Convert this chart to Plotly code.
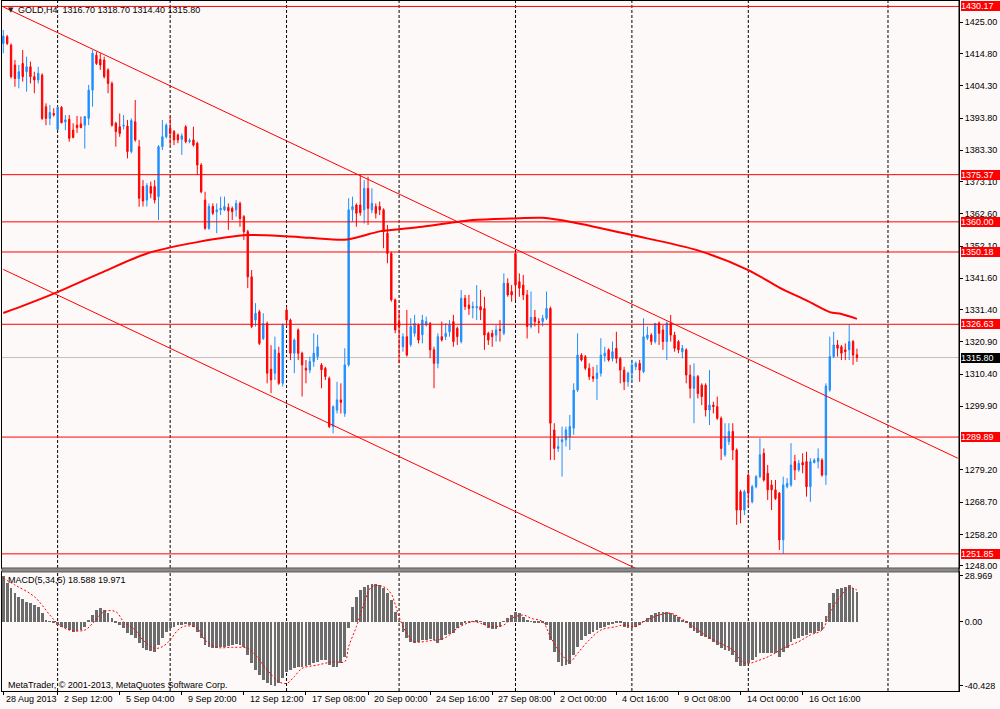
import plotly.graph_objects as go

# GOLD H4 candles, bar 0 = leftmost visible bar. Prices.
opens = [
    1418.1, 1420.3, 1417.6, 1411.1, 1406.7, 1411.6, 1408.9, 1410.5, 1407.3, 1406.2,
    1407.8, 1397.5, 1393.7, 1395.3, 1390.1, 1397.3, 1392.6, 1393.4, 1389.9, 1391.5,
    1391.9, 1391.5, 1393.7, 1402.9, 1414.3, 1412.9, 1412.7, 1409.5, 1405.1, 1392.1,
    1391.0, 1391.2, 1391.2, 1382.9, 1392.6, 1384.5, 1371.5, 1367.1, 1371.5, 1371.5,
    1368.2, 1384.5, 1387.7, 1390.5, 1389.4, 1388.3, 1386.9, 1391.0, 1386.2, 1386.7,
    1385.6, 1378.5, 1367.1, 1357.9, 1365.0, 1363.3, 1363.9, 1363.9, 1364.7, 1364.4,
    1363.9, 1366.0, 1361.7, 1356.8, 1342.1, 1328.0, 1330.7, 1322.0, 1326.9, 1312.0,
    1310.7, 1317.2, 1307.4, 1331.3, 1328.0, 1317.2, 1324.8, 1317.2, 1312.3, 1311.7,
    1314.5, 1316.1, 1313.4, 1312.3, 1309.0, 1293.3, 1298.7, 1302.0, 1297.6, 1313.4,
    1363.9, 1365.5, 1365.5, 1363.9, 1370.9, 1363.9, 1365.0, 1365.0, 1363.9, 1356.3,
    1349.7, 1334.6, 1327.5, 1319.3, 1322.6, 1320.0, 1323.7, 1326.4, 1323.2, 1326.4,
    1326.9, 1318.3, 1313.9, 1322.6, 1322.6, 1324.2, 1327.5, 1325.3, 1321.0, 1335.1,
    1332.9, 1332.0, 1332.0, 1332.4, 1331.8, 1323.7, 1323.7, 1323.1, 1325.0, 1323.7,
    1340.0, 1337.3, 1349.7, 1340.5, 1339.4, 1336.2, 1325.9, 1328.9, 1327.5, 1327.5,
    1328.6, 1331.8, 1292.2, 1286.2, 1288.4, 1289.0, 1290.0, 1292.8, 1305.2, 1316.6,
    1316.1, 1312.3, 1309.6, 1309.0, 1310.7, 1316.3, 1318.3, 1315.5, 1318.8, 1315.5,
    1311.7, 1307.9, 1310.7, 1312.8, 1313.9, 1311.2, 1322.1, 1323.1, 1321.0, 1327.0,
    1324.8, 1321.0, 1327.0, 1323.1, 1321.0, 1317.7, 1318.3, 1310.1, 1305.8, 1309.6,
    1306.8, 1306.8, 1298.7, 1300.3, 1299.8, 1296.0, 1284.1, 1288.4, 1291.7, 1285.7,
    1272.1, 1266.1, 1277.5, 1268.8, 1273.7, 1277.0, 1284.6, 1278.1, 1274.3, 1272.7,
    1271.6, 1256.4, 1273.7, 1274.3, 1281.9, 1279.2, 1281.6, 1281.9, 1273.7, 1281.6,
    1281.9, 1282.4, 1277.5, 1305.2, 1316.1, 1319.9, 1319.3, 1318.3, 1318.3, 1321.0,
    1316.7,
]
highs = [
    1422.5, 1420.9, 1418.1, 1412.7, 1411.1, 1416.0, 1413.8, 1412.2, 1408.9, 1410.5,
    1408.4, 1398.6, 1398.1, 1397.0, 1397.5, 1397.7, 1394.8, 1394.8, 1392.1, 1394.5,
    1394.3, 1394.3, 1404.6, 1416.0, 1415.4, 1414.9, 1413.8, 1410.0, 1405.7, 1392.6,
    1395.3, 1394.8, 1393.2, 1393.7, 1399.7, 1386.7, 1373.6, 1372.6, 1373.1, 1373.6,
    1385.0, 1393.2, 1392.1, 1394.3, 1389.9, 1388.8, 1388.8, 1391.5, 1387.2, 1391.0,
    1386.1, 1379.1, 1369.8, 1366.0, 1366.0, 1366.0, 1368.2, 1368.2, 1366.0, 1365.0,
    1367.1, 1366.6, 1362.2, 1357.4, 1344.3, 1333.5, 1331.3, 1330.2, 1327.5, 1319.8,
    1322.6, 1319.3, 1326.9, 1332.4, 1328.5, 1322.0, 1325.3, 1317.7, 1315.0, 1316.1,
    1323.7, 1323.2, 1314.0, 1312.8, 1309.6, 1300.2, 1307.9, 1307.4, 1318.8, 1367.7,
    1368.2, 1366.0, 1375.37, 1373.6, 1374.7, 1370.9, 1366.0, 1366.6, 1364.4, 1359.0,
    1350.3, 1335.0, 1331.3, 1323.7, 1331.3, 1328.6, 1329.7, 1326.9, 1329.7, 1329.1,
    1327.4, 1319.3, 1323.7, 1327.5, 1327.0, 1328.0, 1329.7, 1325.9, 1337.8, 1336.2,
    1336.2, 1334.0, 1339.4, 1337.8, 1335.6, 1324.2, 1324.8, 1326.4, 1328.0, 1343.2,
    1341.6, 1339.4, 1350.18, 1343.2, 1342.7, 1337.8, 1337.3, 1331.3, 1328.6, 1329.7,
    1337.3, 1332.4, 1294.4, 1290.0, 1293.3, 1293.3, 1297.1, 1307.4, 1323.7, 1317.2,
    1316.6, 1313.9, 1312.8, 1313.4, 1322.1, 1319.3, 1318.8, 1321.0, 1324.2, 1316.0,
    1312.8, 1311.2, 1315.0, 1314.5, 1315.0, 1328.6, 1325.9, 1323.7, 1327.0, 1327.5,
    1326.4, 1327.5, 1329.7, 1324.2, 1321.5, 1319.9, 1318.8, 1313.4, 1313.9, 1310.1,
    1307.4, 1307.4, 1311.7, 1301.4, 1303.1, 1296.6, 1294.4, 1294.4, 1294.4, 1286.2,
    1272.7, 1272.7, 1278.1, 1274.3, 1277.5, 1289.5, 1286.2, 1280.8, 1275.9, 1275.9,
    1272.0, 1277.0, 1276.5, 1287.9, 1284.1, 1282.4, 1284.6, 1285.1, 1283.0, 1283.0,
    1286.2, 1283.0, 1307.4, 1322.6, 1324.2, 1321.5, 1319.9, 1320.4, 1326.6, 1321.5,
    1318.7,
]
lows = [
    1414.9, 1417.6, 1406.7, 1404.0, 1403.5, 1405.7, 1402.4, 1405.1, 1401.9, 1405.1,
    1393.2, 1391.5, 1391.5, 1394.3, 1389.9, 1392.1, 1389.9, 1386.1, 1387.2, 1389.0,
    1390.5, 1383.9, 1391.5, 1397.5, 1411.1, 1409.5, 1406.7, 1401.9, 1391.0, 1384.5,
    1387.7, 1390.1, 1380.7, 1382.3, 1386.1, 1364.9, 1365.0, 1365.0, 1367.7, 1366.0,
    1360.6, 1383.4, 1387.2, 1385.0, 1385.0, 1385.6, 1381.8, 1385.6, 1385.6, 1384.5,
    1375.3, 1369.3, 1357.4, 1357.4, 1362.2, 1356.3, 1362.2, 1363.5, 1357.4, 1360.6,
    1361.7, 1358.4, 1354.1, 1338.4, 1325.4, 1325.9, 1319.9, 1321.5, 1307.4, 1304.2,
    1308.5, 1306.9, 1306.3, 1325.9, 1315.0, 1310.7, 1315.0, 1303.1, 1307.4, 1310.7,
    1312.8, 1315.0, 1305.8, 1308.5, 1292.8, 1291.1, 1297.6, 1297.6, 1296.5, 1312.8,
    1360.1, 1358.4, 1362.0, 1359.5, 1359.0, 1362.8, 1361.1, 1362.2, 1351.4, 1346.5,
    1334.0, 1323.7, 1313.9, 1317.7, 1316.1, 1319.3, 1322.6, 1320.4, 1320.4, 1325.9,
    1315.6, 1305.8, 1312.3, 1321.0, 1321.5, 1322.6, 1319.3, 1319.9, 1320.4, 1331.3,
    1329.7, 1328.6, 1328.0, 1328.0, 1318.3, 1319.9, 1319.3, 1321.0, 1321.0, 1323.1,
    1335.6, 1334.0, 1334.5, 1335.6, 1334.5, 1322.0, 1325.3, 1325.9, 1323.7, 1325.9,
    1328.0, 1282.4, 1282.4, 1285.1, 1277.0, 1286.8, 1285.7, 1290.6, 1304.6, 1314.5,
    1311.7, 1308.5, 1307.9, 1302.0, 1309.6, 1314.5, 1314.5, 1314.5, 1313.9, 1307.4,
    1305.2, 1306.3, 1307.9, 1311.7, 1307.9, 1310.7, 1321.5, 1319.9, 1320.4, 1319.9,
    1318.3, 1315.0, 1321.0, 1317.7, 1317.2, 1315.5, 1307.4, 1302.5, 1294.4, 1302.5,
    1300.3, 1296.6, 1293.8, 1297.6, 1295.5, 1282.4, 1283.5, 1287.3, 1282.4, 1261.3,
    1261.8, 1264.5, 1267.2, 1268.3, 1273.2, 1276.5, 1275.4, 1269.4, 1266.1, 1269.4,
    1253.1, 1251.85, 1273.2, 1273.7, 1275.9, 1278.6, 1278.1, 1270.5, 1268.8, 1281.3,
    1279.7, 1277.0, 1274.3, 1304.7, 1315.6, 1316.1, 1315.0, 1315.0, 1315.0, 1313.4,
    1314.4,
]
closes = [
    1420.5, 1418.1, 1407.3, 1406.7, 1408.9, 1407.3, 1410.5, 1407.3, 1406.2, 1408.4,
    1393.7, 1393.7, 1395.6, 1394.8, 1397.3, 1392.3, 1393.2, 1387.2, 1387.5, 1390.7,
    1390.7, 1394.3, 1402.9, 1414.9, 1411.6, 1411.1, 1407.3, 1405.1, 1391.5, 1389.4,
    1388.8, 1391.5, 1382.9, 1393.0, 1386.7, 1367.7, 1366.8, 1371.8, 1369.3, 1367.1,
    1384.5, 1387.7, 1391.5, 1388.8, 1386.7, 1386.7, 1388.0, 1386.1, 1386.5, 1385.0,
    1378.5, 1369.8, 1357.9, 1365.0, 1362.8, 1363.9, 1364.4, 1365.0, 1363.6, 1363.3,
    1366.0, 1361.1, 1356.8, 1342.1, 1325.9, 1330.2, 1320.4, 1326.9, 1310.7, 1308.5,
    1318.3, 1307.4, 1326.4, 1328.0, 1317.2, 1321.5, 1317.2, 1313.4, 1311.7, 1314.5,
    1317.2, 1319.3, 1311.8, 1309.6, 1293.3, 1299.8, 1302.0, 1301.2, 1313.4, 1363.9,
    1365.0, 1362.8, 1363.0, 1370.9, 1364.4, 1366.0, 1362.8, 1363.9, 1356.8, 1349.7,
    1334.6, 1324.8, 1325.9, 1322.6, 1316.6, 1325.9, 1326.9, 1321.5, 1328.0, 1327.5,
    1318.3, 1313.9, 1322.6, 1321.5, 1323.7, 1326.4, 1321.0, 1322.6, 1335.1, 1332.4,
    1331.8, 1332.4, 1332.4, 1331.3, 1323.1, 1321.5, 1322.6, 1324.8, 1324.6, 1340.0,
    1336.2, 1336.2, 1339.4, 1338.4, 1336.2, 1325.9, 1328.9, 1327.5, 1327.2, 1328.6,
    1331.8, 1294.4, 1286.2, 1286.8, 1289.0, 1292.2, 1293.3, 1305.2, 1316.6, 1315.0,
    1312.3, 1309.6, 1309.0, 1310.7, 1316.6, 1317.2, 1315.0, 1317.7, 1315.5, 1311.7,
    1307.9, 1310.7, 1313.4, 1313.9, 1311.7, 1322.6, 1323.1, 1321.0, 1326.9, 1323.7,
    1321.0, 1327.0, 1323.1, 1318.8, 1318.3, 1318.8, 1310.1, 1305.8, 1309.6, 1304.1,
    1303.1, 1298.7, 1300.3, 1299.8, 1296.0, 1286.2, 1290.0, 1291.7, 1285.7, 1266.1,
    1266.1, 1272.1, 1271.6, 1273.7, 1277.0, 1284.1, 1275.9, 1272.7, 1272.7, 1269.9,
    1256.4, 1274.3, 1274.8, 1280.8, 1279.2, 1281.3, 1280.8, 1273.7, 1281.9, 1282.4,
    1283.0, 1277.5, 1306.5, 1316.1, 1319.9, 1318.8, 1317.2, 1317.7, 1321.0, 1316.6,
    1315.8,
]

# MACD(5,34,5) main line (histogram), one value per bar
macd_hist = [
    28.969, 24.2, 21.1, 17.9, 15.8, 14.1, 12.7, 11.6, 10.5, 9.5,
    5.3, 1.1, 0.3, -0.6, -2.1, -3.1, -4.2, -5.3, -6.3, -5.9,
    -5.3, -3.1, 0.5, 4.2, 7.4, 8.4, 7.4, 5.3, 2.1, -1.1,
    -2.1, -4.2, -7.4, -8.4, -10.5, -13.7, -16.8, -17.9, -18.3, -19.0,
    -14.7, -10.5, -6.3, -4.2, -3.1, -2.1, -2.1, -1.7, -2.1, -3.1,
    -6.3, -10.5, -14.7, -16.2, -16.8, -16.8, -16.2, -15.8, -15.4, -14.7,
    -14.3, -14.7, -16.2, -21.1, -26.3, -30.5, -33.7, -36.9, -38.5, -40.0,
    -40.428, -39.0, -35.8, -31.6, -30.5, -29.5, -28.8, -28.4, -28.0, -27.4,
    -26.3, -25.3, -24.2, -24.2, -27.4, -28.8, -28.4, -26.3, -22.1, -4.2,
    9.5, 15.8, 20.0, 22.1, 23.2, 23.8, 23.8, 23.2, 21.1, 17.9,
    13.7, 6.3, 0.3, -6.3, -10.5, -12.6, -13.7, -12.6, -11.6, -11.6,
    -11.2, -11.6, -13.7, -11.6, -8.4, -7.8, -7.4, -4.2, -2.1, -1.1,
    -0.6, 0.3, 1.1, 0.2, -2.1, -4.2, -4.6, -4.6, -3.1, 0.3,
    2.1, 4.2, 6.3, 5.7, 3.2, 1.1, 0.2, -0.4, -1.1, -1.1,
    -2.1, -11.6, -19.0, -25.3, -28.0, -27.4, -26.7, -21.1, -15.8, -11.6,
    -9.0, -7.8, -6.3, -5.3, -4.2, -3.1, -2.1, -1.5, -1.1, -1.1,
    -3.1, -4.2, -4.2, -3.1, -2.1, 0.2, 2.1, 4.2, 5.3, 6.3,
    6.3, 6.3, 5.7, 4.2, 2.7, 1.1, -1.1, -4.2, -5.7, -7.4,
    -9.0, -9.9, -11.2, -12.6, -14.7, -16.8, -17.9, -18.3, -21.1, -25.3,
    -28.0, -28.0, -26.3, -24.2, -22.1, -20.0, -19.6, -19.6, -20.0, -20.0,
    -22.1, -19.0, -16.8, -12.6, -11.2, -10.5, -9.0, -8.4, -7.4, -6.9,
    -5.7, -5.3, 3.6, 11.6, 17.9, 20.5, 21.1, 21.7, 23.0, 21.5,
    18.588,
]

# MACD signal line, read at anchor bars
signal_bars = [0, 3, 8, 12, 14, 17, 21, 23, 26, 29, 31, 34, 36, 39, 41, 43, 45, 47,
               50, 52, 55, 59, 63, 65, 68, 71, 73, 75, 77, 81, 85, 88, 89, 91, 93,
               95, 98, 100, 101, 102, 104, 106, 110, 113, 115, 117, 121, 123, 126,
               129, 131, 134, 136, 139, 141, 144, 146, 148, 151, 154, 158, 160, 163,
               165, 169, 172, 176, 179, 183, 188, 191, 195, 198, 201, 205, 208, 211,
               213, 216, 218, 220]
signal_values = [27.4, 23.2, 15.8, 4.2, -1.1, -5.3, -5.3, -1.1, 6.3, 6.3, 0.0, -5.3,
                 -11.6, -16.8, -15.8, -11.6, -5.3, -2.7, -4.2, -11.6, -16.2, -16.2,
                 -16.8, -21.1, -30.5, -37.9, -39.0, -34.7, -29.5, -27.4, -25.3, -25.3,
                 -15.8, -3.1, 11.6, 22.1, 22.1, 17.5, 11.0, 3.0, -7.4, -12.6, -12.0,
                 -11.0, -8.4, -4.2, 0.0, -1.1, -3.1, -2.1, 2.1, 4.2, 2.1, 0.0, -9.5,
                 -21.1, -25.3, -20.0, -11.6, -5.3, -3.1, -2.1, -3.1, 0.0, 4.2, 5.3,
                 0.0, -5.3, -11.6, -17.9, -26.3, -24.2, -21.1, -16.8, -12.6, -8.4,
                 -5.3, 5.3, 16.8, 21.5, 19.971]

# moving average on the price chart, read at anchor bars
ma_bars = [0, 6, 13, 25, 37, 50, 63, 73, 79, 88, 92, 97, 108, 121, 131, 139, 147,
           162, 179, 192, 200, 207, 213, 216, 220]
ma_values = [1330.3, 1333.1, 1336.6, 1343.3, 1349.7, 1353.4, 1355.7, 1355.3, 1354.8,
             1354.2, 1355.2, 1356.9, 1358.4, 1360.6, 1361.1, 1361.3, 1359.8, 1355.7,
             1350.7, 1344.3, 1338.6, 1334.4, 1330.6, 1330.0, 1328.4]

# descending channel (trendline end points)
channel_bars = [0, 246]
channel_upper = [1430.0, 1283.0]
channel_lower = [1344.5, 1197.5]

# horizontal levels
red_levels = [1430.17, 1375.37, 1360.00, 1350.18, 1326.63, 1289.89, 1251.85]
bid_price = 1315.80

# axis ticks
price_ticks = [1425.00, 1414.80, 1404.30, 1393.80, 1383.30, 1373.10, 1362.60,
               1352.10, 1341.60, 1331.40, 1320.90, 1310.40, 1299.90, 1279.20,
               1268.70, 1258.20, 1248.00]
macd_ticks = [28.969, 0.0, -40.428]
macd_tick_text = ["28.969", "0.00", "-40.428"]
time_label_bars = [0, 14, 30, 46, 62, 78, 94, 110, 126, 142, 158, 174, 190, 206]
time_labels = ["28 Aug 2013", "2 Sep 12:00", "5 Sep 04:00", "9 Sep 20:00",
               "12 Sep 12:00", "17 Sep 08:00", "20 Sep 00:00", "24 Sep 16:00",
               "27 Sep 08:00", "2 Oct 00:00", "4 Oct 16:00", "9 Oct 08:00",
               "14 Oct 00:00", "16 Oct 16:00"]
grid_bars = [14, 43, 73, 102, 132, 162, 192, 228]

FONT = "Liberation Sans, Arial, sans-serif"
BG = "#fdf9f8"
BULL = "#1e90ff"
BEAR = "#ff0000"
MAIN_BOTTOM = 0.1783
MACD_TOP = 0.1725
X_RANGE = [-0.335, 246.3]


def price_box(price, fill):
    """Coloured price label on the right axis"""
    return dict(
        x=1, xref="paper", xanchor="left", xshift=2,
        y=price, yref="y", yanchor="middle",
        text=f"{price:.2f}", showarrow=False, align="left",
        font=dict(family=FONT, size=9, color="white"),
        bgcolor=fill, borderpad=0, borderwidth=0, width=39, height=10,
    )


def build_figure():
    bars = list(range(len(opens)))

    fig = go.Figure()

    fig.add_trace(go.Candlestick(
        x=bars, open=opens, high=highs, low=lows, close=closes,
        increasing=dict(line=dict(color=BULL, width=1), fillcolor=BULL),
        decreasing=dict(line=dict(color=BEAR, width=1), fillcolor=BEAR),
        whiskerwidth=0, hoverinfo="skip", xaxis="x", yaxis="y",
    ))

    # moving average
    fig.add_trace(go.Scatter(
        x=ma_bars, y=ma_values, mode="lines",
        line=dict(color="#ff0000", width=2, shape="spline", smoothing=0.8),
        hoverinfo="skip", xaxis="x", yaxis="y",
    ))

    # channel lines
    for prices in (channel_upper, channel_lower):
        fig.add_trace(go.Scatter(
            x=channel_bars, y=prices, mode="lines",
            line=dict(color="#ff0000", width=1),
            hoverinfo="skip", xaxis="x", yaxis="y",
        ))

    # MACD histogram + signal
    fig.add_trace(go.Bar(
        x=bars, y=macd_hist, width=0.72,
        marker=dict(color="#6c6c6c", line=dict(width=0)),
        hoverinfo="skip", xaxis="x2", yaxis="y2",
    ))
    fig.add_trace(go.Scatter(
        x=signal_bars, y=signal_values, mode="lines",
        line=dict(color="#ff0000", width=1, dash="2px,2px", shape="spline"),
        hoverinfo="skip", xaxis="x2", yaxis="y2",
    ))

    shapes = []
    # dashed period separators in both panels
    for g in grid_bars:
        for xr, yr in (("x", "y domain"), ("x2", "y2 domain")):
            shapes.append(dict(
                type="line", xref=xr, yref=yr, x0=g, x1=g, y0=0, y1=1,
                line=dict(color="black", width=1, dash="3px,2px"), layer="below",
            ))
    # horizontal levels
    for p in red_levels:
        shapes.append(dict(
            type="line", xref="paper", yref="y", x0=0, x1=1, y0=p, y1=p,
            line=dict(color="#ff0000", width=1), layer="above",
        ))
    shapes.append(dict(
        type="line", xref="paper", yref="y", x0=0, x1=1,
        y0=bid_price, y1=bid_price,
        line=dict(color="#c0c0c0", width=1), layer="below",
    ))
    # separator between the windows
    shapes.append(dict(
        type="rect", xref="paper", yref="paper", x0=0, x1=1,
        y0=MACD_TOP, y1=MAIN_BOTTOM, fillcolor="#8a8a8a",
        line=dict(color="#5a5a5a", width=1), layer="above",
    ))
    shapes.append(dict(
        type="line", xref="paper", yref="paper", x0=1, x1=1, y0=0, y1=1,
        line=dict(color="black", width=1), layer="above",
    ))

    annotations = []
    small = dict(family=FONT, size=9, color="black")
    # time labels, drawn to the right of their tick like the terminal does
    for i, (b, label) in enumerate(zip(time_label_bars, time_labels)):
        annotations.append(dict(
            x=b, xref="x2", y=0, yref="paper", xanchor="left", yanchor="top",
            xshift=1 if i == 0 else 4, yshift=-1,
            text=label, showarrow=False, font=small,
        ))
    for p in red_levels:
        annotations.append(price_box(p, "#ff0000"))
    annotations.append(price_box(bid_price, "#000000"))

    annotations.append(dict(
        x=0, xref="paper", xshift=4, xanchor="left",
        y=1, yref="paper", yshift=-9, yanchor="middle",
        text="\u25bc", showarrow=False,
        font=dict(family="DejaVu Sans", size=7, color="#222222"),
    ))
    annotations.append(dict(
        x=0, xref="paper", xshift=14, xanchor="left",
        y=1, yref="paper", yshift=-9, yanchor="middle",
        text="GOLD,H4\u00a0 1316.70 1318.70 1314.40 1315.80",
        showarrow=False, font=small,
    ))
    annotations.append(dict(
        x=0, xref="paper", xshift=4, xanchor="left",
        y=MACD_TOP, yref="paper", yshift=-8, yanchor="middle",
        text="MACD(5,34,5) 18.588 19.971", showarrow=False, font=small,
    ))
    annotations.append(dict(
        x=0, xref="paper", xshift=4, xanchor="left",
        y=0, yref="paper", yshift=6, yanchor="middle",
        text="MetaTrader, \u00a9 2001-2013, MetaQuotes Software Corp.",
        showarrow=False, font=small,
    ))

    axis_common = dict(
        showgrid=False, zeroline=False, showline=True, linecolor="black",
        linewidth=1, mirror=True, fixedrange=True,
    )

    fig.update_layout(
        width=1000, height=709,
        margin=dict(l=2, r=41, t=1, b=18, pad=0),
        paper_bgcolor=BG, plot_bgcolor=BG,
        showlegend=False, boxgap=0.5, bargap=0,
        xaxis=dict(
            domain=[0, 1], anchor="y", range=X_RANGE, type="linear",
            showticklabels=False, ticks="",
            rangeslider=dict(visible=False), **axis_common,
        ),
        yaxis=dict(
            domain=[MAIN_BOTTOM, 1], anchor="x", side="right",
            range=[1247.25, 1431.94],
            tickvals=price_ticks, ticktext=[f"{v:.2f}" for v in price_ticks],
            ticks="outside", ticklen=3, tickcolor="black",
            tickfont=dict(family=FONT, size=9, color="black"),
            **axis_common,
        ),
        xaxis2=dict(
            domain=[0, 1], anchor="y2", range=X_RANGE, type="linear",
            matches="x", tickvals=time_label_bars, showticklabels=False,
            ticks="outside", ticklen=3, tickcolor="black", **axis_common,
        ),
        yaxis2=dict(
            domain=[0, MACD_TOP], anchor="x2", side="right",
            range=[-43.8, 31.4],
            tickvals=macd_ticks, ticktext=macd_tick_text,
            ticks="outside", ticklen=3, tickcolor="black",
            tickfont=dict(family=FONT, size=9, color="black"),
            **axis_common,
        ),
        shapes=shapes,
        annotations=annotations,
    )
    return fig


def main():
    fig = build_figure()
    # page body has a default 8px margin, drop it so the chart sits at 0,0
    fig.write_html(
        "out.html",
        config={"displayModeBar": False},
        post_script="document.body.style.margin='0';"
                    "document.body.style.overflow='hidden';",
    )


if __name__ == "__main__":
    main()
